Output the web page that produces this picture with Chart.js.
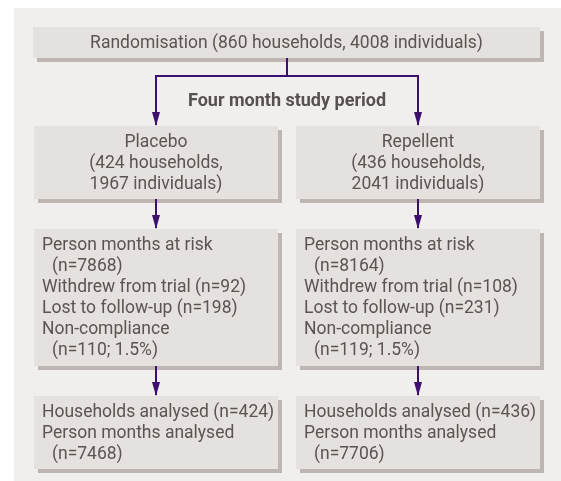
<!DOCTYPE html>
<html><head><meta charset="utf-8">
<script src="https://cdn.jsdelivr.net/npm/chart.js@4"></script>
<style>html,body{margin:0;padding:0;background:#fff;}canvas{display:block}</style>
</head><body>
<canvas id="c" width="561" height="481"></canvas>
<script>
// ---- data ----
const totalHouseholds = 860;
const totalIndividuals = 4008;
const heading = 'Four month study period';
const groups = ['Placebo', 'Repellent'];
const households = [424, 436];
const individuals = [1967, 2041];
const personMonthsAtRisk = [7868, 8164];
const withdrew = [92, 108];
const lostToFollowUp = [198, 231];
const nonCompliance = [110, 119];
const nonCompliancePct = [1.5, 1.5];
const householdsAnalysed = [424, 436];
const personMonthsAnalysed = [7468, 7706];

// ---- layout (chart units) ----
const W = 561, H = 481;
const panel = {x0: 14, y0: 8, x1: 561, y1: 481};
const topBox = {x0: 33, x1: 540, y0: 27, y1: 58};
const cols = [{x0: 34, x1: 278}, {x0: 296, x1: 540}];
const rows = [{y0: 126, y1: 199}, {y0: 229, y1: 366}, {y0: 396, y1: 469}];
const branchY = 76;
const headingY = 106;
const FONT = '17.5px Roboto';
const BOLD = 'bold 18px Roboto';
const TEXT = '#5a5452';
const PURPLE = '#3d1070';

const cx = g => (cols[g].x0 + cols[g].x1) / 2;
const midX = (cx(0) + cx(1)) / 2;

function rowLines(r, g) {
  if (r === 0) return [[groups[g]], ['(' + households[g] + ' households,'], [individuals[g] + ' individuals)']];
  if (r === 1) return [
    ['Person months at risk', 0], ['(n=' + personMonthsAtRisk[g] + ')', 1],
    ['Withdrew from trial (n=' + withdrew[g] + ')', 0], ['Lost to follow-up (n=' + lostToFollowUp[g] + ')', 0],
    ['Non-compliance', 0], ['(n=' + nonCompliance[g] + '; ' + nonCompliancePct[g].toFixed(1) + '%)', 1]];
  return [['Households analysed (n=' + householdsAnalysed[g] + ')', 0], ['Person months analysed', 0], ['(n=' + personMonthsAnalysed[g] + ')', 1]];
}

// connector datasets
const connectors = [];
connectors.push({pts: [[midX, topBox.y1], [midX, branchY]], arrow: false});
connectors.push({pts: [[cx(0), branchY], [cx(1), branchY]], arrow: false});
for (let g = 0; g < 2; g++) {
  connectors.push({pts: [[cx(g), branchY - 1], [cx(g), rows[0].y0 - 1]], arrow: true});
  for (let r = 0; r < rows.length - 1; r++)
    connectors.push({pts: [[cx(g), rows[r].y1], [cx(g), rows[r + 1].y0 - 1]], arrow: true});
}

const flowPlugin = {
  id: 'flow',
  beforeDatasetsDraw(chart) {
    const {ctx, scales: {x, y}} = chart;
    const X = v => x.getPixelForValue(v), Y = v => y.getPixelForValue(v);
    ctx.save();
    ctx.fillStyle = '#f1efed';
    ctx.fillRect(X(panel.x0), Y(panel.y0), X(panel.x1) - X(panel.x0), Y(panel.y1) - Y(panel.y0));
    const box = (b) => {
      ctx.fillStyle = '#bdb6b3';
      ctx.fillRect(X(b.x0 + 4), Y(b.y0 + 4), X(b.x1) - X(b.x0), Y(b.y1) - Y(b.y0));
      ctx.fillStyle = '#e5e1de';
      ctx.fillRect(X(b.x0), Y(b.y0), X(b.x1) - X(b.x0), Y(b.y1) - Y(b.y0));
    };
    box(topBox);
    for (const r of rows) for (const c of cols) box({x0: c.x0, x1: c.x1, y0: r.y0, y1: r.y1});
    ctx.fillStyle = TEXT;
    ctx.textBaseline = 'alphabetic';
    ctx.font = FONT;
    ctx.textAlign = 'center';
    ctx.fillText('Randomisation (' + totalHouseholds + ' households, ' + totalIndividuals + ' individuals)', X((topBox.x0 + topBox.x1) / 2), Y(topBox.y0 + 21));
    for (let r = 0; r < rows.length; r++) {
      for (let g = 0; g < 2; g++) {
        const lines = rowLines(r, g);
        lines.forEach((ln, i) => {
          const by = Y(rows[r].y0 + 21 + i * 21);
          if (r === 0) { ctx.textAlign = 'center'; ctx.fillText(ln[0], X(cx(g)), by); }
          else { ctx.textAlign = 'left'; ctx.fillText(ln[0], X(cols[g].x0 + 8 + (ln[1] ? 10 : 0)), by); }
        });
      }
    }
    ctx.font = BOLD;
    ctx.fillStyle = '#57514f';
    ctx.textAlign = 'center';
    ctx.fillText(heading, X(midX), Y(headingY));
    ctx.restore();
  },
  afterDatasetsDraw(chart) {
    const ctx = chart.ctx;
    chart.data.datasets.forEach((ds, i) => {
      if (!ds.arrow) return;
      const pts = chart.getDatasetMeta(i).data;
      const tip = pts[pts.length - 1];
      ctx.save();
      ctx.fillStyle = PURPLE;
      ctx.beginPath();
      ctx.moveTo(tip.x, tip.y + 1);
      ctx.lineTo(tip.x - 4, tip.y - 13);
      ctx.lineTo(tip.x + 4, tip.y - 13);
      ctx.closePath();
      ctx.fill();
      ctx.restore();
    });
  }
};

new Chart(document.getElementById('c'), {
  type: 'scatter',
  data: {
    datasets: connectors.map(c => ({
      data: c.pts.map(p => ({x: p[0], y: p[1]})),
      arrow: c.arrow,
      showLine: true,
      borderColor: PURPLE,
      borderWidth: 2,
      pointRadius: 0,
      fill: false,
      tension: 0
    }))
  },
  options: {
    responsive: false,
    devicePixelRatio: 1,
    animation: false,
    events: [],
    layout: {padding: 0},
    plugins: {legend: {display: false}, tooltip: {enabled: false}},
    scales: {
      x: {type: 'linear', min: 0, max: W, display: false},
      y: {type: 'linear', min: 0, max: H, reverse: true, display: false}
    }
  },
  plugins: [flowPlugin]
});
</script>
</body></html>
